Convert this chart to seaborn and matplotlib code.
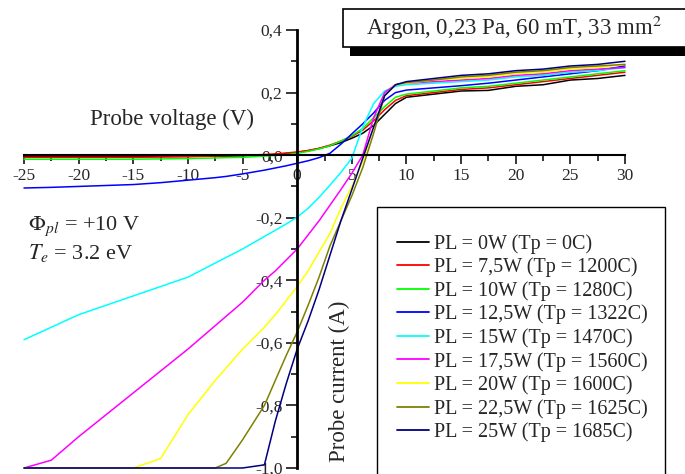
import numpy as np
import pandas as pd
import matplotlib
matplotlib.use("Agg")
import matplotlib.pyplot as plt
from matplotlib.patches import Rectangle
from matplotlib.ticker import MultipleLocator, FuncFormatter
from matplotlib.lines import Line2D
import seaborn as sns

# ---------------- data ----------------
voltage = [-25, -22.5, -20, -17.5, -15, -12.5, -10, -7.5, -6.5, -5, -3, -2, -1,
           0, 1, 2, 3, 4, 5, 6, 7, 8, 9, 10, 12.5, 15, 17.5, 20, 22.5, 25, 27.5, 30]

i_0w = [-0.004, -0.004, -0.004, -0.004, -0.004, -0.004, -0.004, -0.003, -0.003, -0.002, 0.0, 0.002, 0.005,
        0.009, 0.014, 0.021, 0.030, 0.040, 0.054, 0.070, 0.095, 0.130, 0.165, 0.185, 0.195, 0.205, 0.207,
        0.220, 0.225, 0.240, 0.245, 0.255]
i_7_5w = [-0.007, -0.007, -0.007, -0.007, -0.007, -0.006, -0.005, -0.003, -0.002, -0.001, 0.002, 0.004, 0.007,
          0.010, 0.015, 0.022, 0.032, 0.045, 0.060, 0.080, 0.110, 0.145, 0.175, 0.190, 0.200, 0.210, 0.215,
          0.225, 0.235, 0.245, 0.255, 0.265]
i_10w = [-0.013, -0.013, -0.013, -0.013, -0.013, -0.012, -0.011, -0.009, -0.008, -0.007, -0.003, -0.001, 0.002,
         0.006, 0.012, 0.020, 0.030, 0.045, 0.062, 0.085, 0.120, 0.155, 0.185, 0.195, 0.205, 0.215, 0.220,
         0.230, 0.240, 0.250, 0.260, 0.270]
i_12_5w = [-0.105, -0.103, -0.100, -0.097, -0.094, -0.088, -0.080, -0.072, -0.068, -0.060, -0.048, -0.041, -0.034,
           -0.026, -0.018, -0.008, 0.006, 0.035, 0.068, 0.100, 0.135, 0.175, 0.200, 0.208, 0.215, 0.222, 0.230,
           0.240, 0.250, 0.260, 0.270, 0.285]
i_15w = [-0.590, -0.550, -0.510, -0.480, -0.450, -0.420, -0.390, -0.345, -0.327, -0.300, -0.260, -0.240, -0.220,
         -0.198, -0.170, -0.135, -0.096, -0.055, -0.010, 0.090, 0.165, 0.205, 0.220, 0.225, 0.230, 0.235, 0.240,
         0.250, 0.255, 0.265, 0.270, 0.280]
i_17_5w = [-1.000, -0.975, -0.900, -0.830, -0.760, -0.690, -0.620, -0.545, -0.515, -0.470, -0.400, -0.370, -0.335,
           -0.300, -0.255, -0.210, -0.160, -0.110, -0.058, 0.000, 0.120, 0.200, 0.225, 0.230, 0.235, 0.240, 0.245,
           0.255, 0.260, 0.270, 0.275, 0.280]
i_20w = [-1.000, -1.000, -1.000, -1.000, -1.000, -0.970, -0.830, -0.720, -0.680, -0.620, -0.550, -0.510, -0.465,
         -0.420, -0.370, -0.310, -0.250, -0.170, -0.100, -0.020, 0.090, 0.190, 0.225, 0.230, 0.240, 0.245, 0.250,
         0.260, 0.265, 0.275, 0.280, 0.290]
i_22_5w = [-1.000, -1.000, -1.000, -1.000, -1.000, -1.000, -1.000, -1.000, -0.985, -0.910, -0.800, -0.720, -0.640,
           -0.565, -0.480, -0.390, -0.290, -0.210, -0.130, -0.040, 0.070, 0.190, 0.225, 0.232, 0.240, 0.250, 0.255,
           0.265, 0.270, 0.280, 0.285, 0.290]
i_25w = [-1.000, -1.000, -1.000, -1.000, -1.000, -1.000, -1.000, -1.000, -1.000, -1.000, -0.990, -0.850, -0.730,
         -0.620, -0.530, -0.430, -0.320, -0.210, -0.110, -0.010, 0.090, 0.190, 0.225, 0.235, 0.245, 0.255, 0.260,
         0.270, 0.275, 0.285, 0.290, 0.300]

series_labels = ["PL = 0W (Tp = 0C)", "PL = 7,5W (Tp = 1200C)", "PL = 10W (Tp = 1280C)",
                 "PL = 12,5W (Tp = 1322C)", "PL = 15W (Tp = 1470C)", "PL = 17,5W (Tp = 1560C)",
                 "PL = 20W (Tp = 1600C)", "PL = 22,5W (Tp = 1625C)", "PL = 25W (Tp = 1685C)"]
series_values = [i_0w, i_7_5w, i_10w, i_12_5w, i_15w, i_17_5w, i_20w, i_22_5w, i_25w]
series_colors = ["#000000", "#FF0000", "#00FF00", "#0000FF", "#00FFFF",
                 "#FF00FF", "#FFFF00", "#808000", "#000080"]

x_ticks = [-25, -20, -15, -10, -5, 0, 5, 10, 15, 20, 25, 30]
y_ticks = [-1.0, -0.8, -0.6, -0.4, -0.2, 0.0, 0.2, 0.4]

df = pd.concat([pd.DataFrame({"V": voltage, "I": vals, "series": lab})
                for lab, vals in zip(series_labels, series_values)], ignore_index=True)

# ---------------- figure ----------------
sns.set_style("white")
plt.rcParams["font.family"] = ["Liberation Serif", "DejaVu Serif"]
plt.rcParams["mathtext.fontset"] = "stix"

W, H = 685, 474
fig = plt.figure(figsize=(W / 100, H / 100), dpi=100)

def fx(p):
    return p / W

def fy(p):
    return 1 - p / H

ax_l, ax_r, ax_t, ax_b = 24, 625, 30, 468
ax = fig.add_axes([fx(ax_l), fy(ax_b), fx(ax_r - ax_l), (ax_b - ax_t) / H])
ax.set_facecolor("none")

palette = dict(zip(series_labels, series_colors))
sns.lineplot(data=df, x="V", y="I", hue="series", hue_order=series_labels,
             palette=palette, estimator=None, sort=False, linewidth=1.1,
             legend=False, ax=ax)
for ln in ax.get_lines():
    ln.set_clip_on(False)

ax.set_xlim(-25, 30)
ax.set_ylim(-1.0, 0.4)

for s in ["top", "right"]:
    ax.spines[s].set_visible(False)
ax.spines["left"].set_position(("data", 0))
ax.spines["bottom"].set_position(("data", 0))
ax.spines["left"].set_linewidth(2.0)
ax.spines["bottom"].set_linewidth(1.5)
ax.spines["left"].set_color("black")
ax.spines["bottom"].set_color("black")

ax.set_xticks(x_ticks)
ax.set_yticks(y_ticks)
ax.xaxis.set_minor_locator(MultipleLocator(2.5))
ax.yaxis.set_minor_locator(MultipleLocator(0.1))
ax.xaxis.set_major_formatter(FuncFormatter(lambda v, p: f"{v:.0f}"))
ax.yaxis.set_major_formatter(FuncFormatter(lambda v, p: f"{v:.1f}".replace(".", ",")))
ax.tick_params(axis="x", which="major", direction="out", length=6.5, width=1.3,
               labelsize=12.5, pad=3, bottom=True)
ax.tick_params(axis="x", which="minor", direction="out", length=4, width=1.3, bottom=True)
ax.tick_params(axis="y", which="major", direction="out", length=8, width=1.3,
               labelsize=12.5, pad=2.5, left=True)
ax.tick_params(axis="y", which="minor", direction="out", length=4.3, width=1.3, left=True)

ax.set_xlabel("Probe voltage (V)", fontsize=16.5)
ax.xaxis.set_label_coords((172 - ax_l) / (ax_r - ax_l), (ax_b - 119) / (ax_b - ax_t))
ax.xaxis.label.set_va("center")
ax.set_ylabel("Probe current (A)", fontsize=16.5)
ax.yaxis.set_label_coords((339 - ax_l) / (ax_r - ax_l), (ax_b - 381) / (ax_b - ax_t))
ax.yaxis.label.set_va("center")
ax.yaxis.label.set_ha("center")

# annotation text
fig.text(fx(28), fy(230), r"$\Phi_{pl}$ = +10 V", fontsize=16, ha="left", va="baseline")
fig.text(fx(28), fy(259), r"$T_{e}$ = 3.2 eV", fontsize=16, ha="left", va="baseline")

# title box with shadow
fig.patches.append(Rectangle((fx(350), fy(56)), fx(345), 9 / H, transform=fig.transFigure,
                             facecolor="black", edgecolor="none", zorder=5))
fig.patches.append(Rectangle((fx(343), fy(47)), fx(350), 38 / H, transform=fig.transFigure,
                             facecolor="white", edgecolor="black", linewidth=1.2, zorder=6))
fig.text(fx(514), fy(28), r"Argon, 0,23 Pa, 60 mT, 33 mm$^{2}$", fontsize=16.5,
         ha="center", va="center", zorder=7)

# legend box
fig.patches.append(Rectangle((fx(377), fy(490)), fx(288), (490 - 207) / H, transform=fig.transFigure,
                             facecolor="white", edgecolor="black", linewidth=1.0, zorder=3))
handles = [Line2D([0], [0], color=c, lw=1.3) for c in series_colors]
leg = fig.legend(handles, series_labels, loc="upper left",
                 bbox_to_anchor=(fx(397), fy(234)), frameon=False, fontsize=14.5,
                 borderpad=0, borderaxespad=0, handlelength=1.6, handletextpad=0.25,
                 labelspacing=0.19)
leg.set_zorder(8)

fig.savefig("out.png", dpi=100)
